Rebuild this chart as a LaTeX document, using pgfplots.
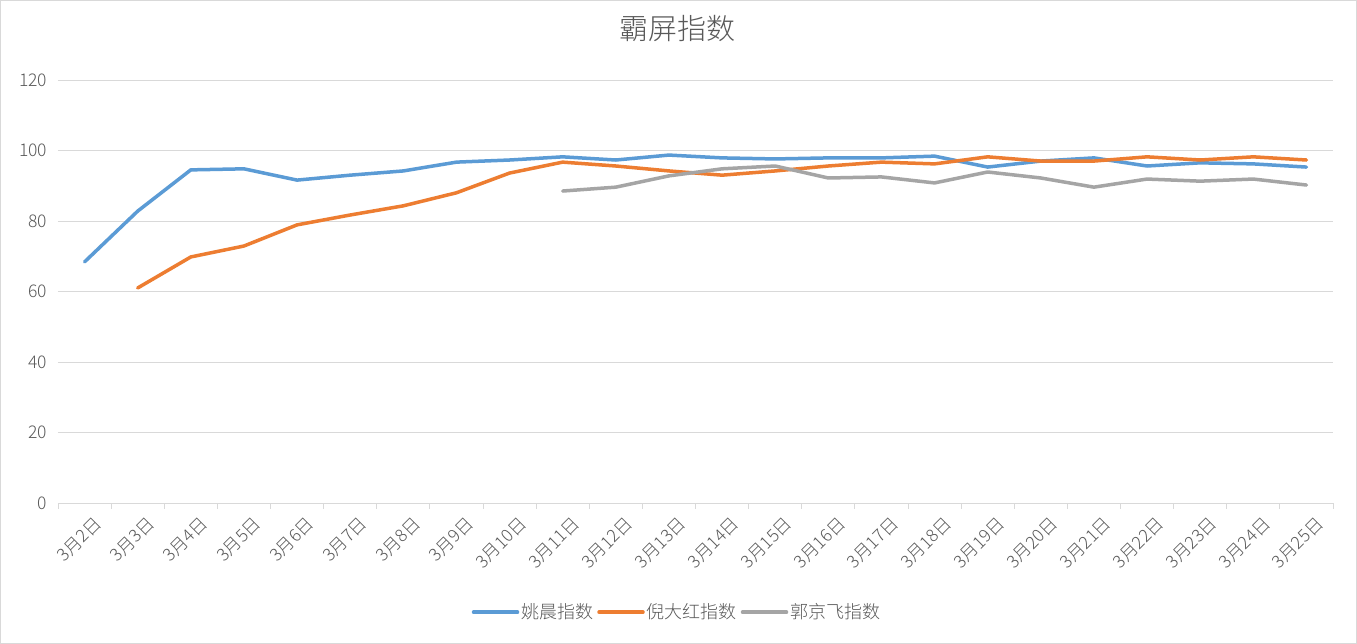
\documentclass[border=0pt]{standalone}
\usepackage{fontspec}
\setmainfont{Noto Sans CJK SC}[UprightFont=* Light]
\usepackage{pgfplots}
\pgfplotsset{compat=1.18}
\definecolor{cblue}{HTML}{5B9BD5}
\definecolor{corange}{HTML}{ED7D31}
\definecolor{cgray}{HTML}{A5A5A5}
\definecolor{grid}{HTML}{D9D9D9}
\definecolor{txt}{HTML}{595959}
\begin{document}
\begin{tikzpicture}
\fill[white] (-58pt,-141pt) rectangle (1299pt,503pt);
\begin{axis}[
  at={(0pt,0pt)}, anchor=south west,
  scale only axis, width=1275pt, height=423pt,
  xmin=-0.5, xmax=23.5, ymin=0, ymax=120,
  ytick={0,20,...,120},
  xtick={0,...,23},
  xticklabels={3月2日,3月3日,3月4日,3月5日,3月6日,3月7日,3月8日,3月9日,3月10日,3月11日,3月12日,3月13日,3月14日,3月15日,3月16日,3月17日,3月18日,3月19日,3月20日,3月21日,3月22日,3月23日,3月24日,3月25日},
  minor xtick={-0.5,0.5,...,23.5},
  major x tick style={draw=none},
  minor x tick style={draw=grid, line width=0.8pt},
  minor tick length=6pt,
  tick align=outside,
  xtick pos=bottom,
  ytick style={draw=none},
  ymajorgrids, grid style={draw=grid, line width=0.9pt},
  axis line style={draw=none},
  every tick label/.append style={font=\fontsize{17.5}{20}\selectfont, text=txt},
  /pgf/number format/assume math mode=true,
  yticklabel style={xshift=-3pt},
  xticklabel style={rotate=45, anchor=east, xshift=4pt, yshift=-19pt},
  title={霸屏指数},
  title style={at={(0.4855,1)}, anchor=center, yshift=45pt, font=\fontsize{29}{33}\selectfont, text=txt},
  legend columns=3,
  legend style={at={(0.4855,-0.258)}, anchor=center, draw=none, fill=none,
     font=\fontsize{18}{21}\selectfont, text=txt,
     /tikz/every even column/.append style={column sep=2pt}},
  legend image code/.code={\draw[#1, line width=3.5pt] (0pt,0pt) -- (44pt,0pt);},
  every axis plot/.append style={line width=3.5pt, line join=round, line cap=round},
]
\addplot[cblue] coordinates {
(0,68.4) (1,82.8) (2,94.5) (3,94.8) (4,91.6) (5,93.0) (6,94.2) (7,96.7) (8,97.3) (9,98.2) (10,97.3) (11,98.7) (12,97.9) (13,97.6) (14,97.9) (15,97.9) (16,98.4) (17,95.3) (18,97.0) (19,97.9) (20,95.6) (21,96.5) (22,96.2) (23,95.3)};
\addlegendentry{姚晨指数}
\addplot[corange] coordinates {
(1,61.0) (2,69.8) (3,72.9) (4,78.9) (5,81.7) (6,84.3) (7,88.0) (8,93.6) (9,96.7) (10,95.6) (11,94.2) (12,93.0) (13,94.2) (14,95.6) (15,96.7) (16,96.2) (17,98.2) (18,97.0) (19,97.0) (20,98.2) (21,97.3) (22,98.2) (23,97.3)};
\addlegendentry{倪大红指数}
\addplot[cgray] coordinates {
(9,88.5) (10,89.6) (11,92.8) (12,94.8) (13,95.6) (14,92.2) (15,92.5) (16,90.8) (17,93.9) (18,92.2) (19,89.6) (20,91.9) (21,91.3) (22,91.9) (23,90.2)};
\addlegendentry{郭京飞指数}
\end{axis}
\draw[grid, line width=0.8pt] (-57.5pt,-140.5pt) rectangle (1298.5pt,502.5pt);
\end{tikzpicture}
\end{document}
